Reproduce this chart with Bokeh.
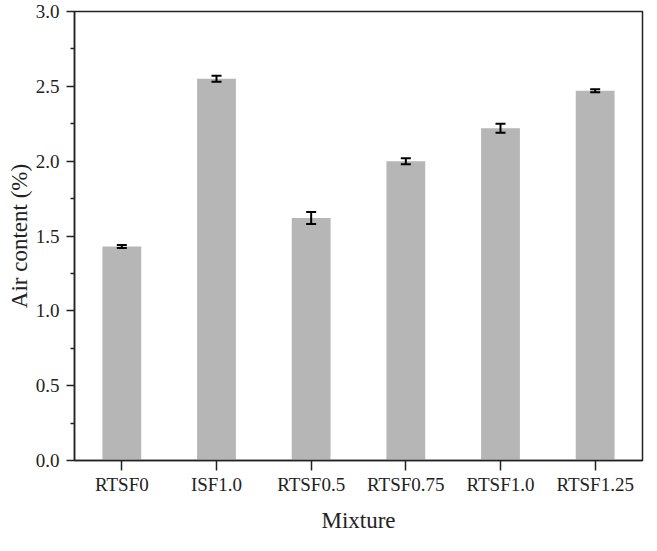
from bokeh.plotting import figure
from bokeh.models import ColumnDataSource, Whisker, TeeHead, FixedTicker, Range1d, CustomJSTickFormatter
from bokeh.embed import file_html
from bokeh.resources import INLINE

mixtures = ["RTSF0", "ISF1.0", "RTSF0.5", "RTSF0.75", "RTSF1.0", "RTSF1.25"]
air_content = [1.43, 2.55, 1.62, 2.00, 2.22, 2.47]
errors = [0.01, 0.02, 0.04, 0.02, 0.03, 0.01]
y_ticks = [0.0, 0.5, 1.0, 1.5, 2.0, 2.5, 3.0]
y_minor = [0.25, 0.75, 1.25, 1.75, 2.25, 2.75]

src = ColumnDataSource(dict(
    x=mixtures, top=air_content,
    upper=[v + e for v, e in zip(air_content, errors)],
    lower=[v - e for v, e in zip(air_content, errors)],
))

FONT = "Liberation Serif"

p = figure(x_range=mixtures, y_range=Range1d(0, 3.0), width=646, height=535,
           output_backend="svg", toolbar_location=None,
           min_border_left=74, min_border_right=4, min_border_top=11, min_border_bottom=70)

p.vbar(x="x", top="top", width=0.41, source=src, fill_color="#b6b6b6", line_color=None)
cap = dict(size=10, line_width=2, line_color="black")
p.add_layout(Whisker(source=src, base="x", upper="upper", lower="lower",
                     line_width=2, line_color="black", level="overlay",
                     upper_head=TeeHead(**cap), lower_head=TeeHead(**cap)))

p.xgrid.visible = False
p.ygrid.visible = False
p.outline_line_color = "#222222"
p.outline_line_width = 1.5
p.background_fill_color = "white"
p.border_fill_color = "white"

p.yaxis.ticker = FixedTicker(ticks=y_ticks, minor_ticks=y_minor)
p.yaxis.formatter = CustomJSTickFormatter(code="return tick.toFixed(1);")

for ax in (p.xaxis, p.yaxis):
    ax.axis_line_color = "#222222"
    ax.axis_line_width = 1.5
    ax.major_tick_line_color = "#222222"
    ax.major_tick_line_width = 1.5
    ax.minor_tick_line_color = "#222222"
    ax.minor_tick_line_width = 1.5
    ax.major_tick_in = 0
    ax.major_tick_out = 8
    ax.minor_tick_in = 0
    ax.minor_tick_out = 4
    ax.major_label_text_font = FONT
    ax.major_label_text_font_size = "19px"
    ax.major_label_text_color = "#222222"
    ax.axis_label_text_font = FONT
    ax.axis_label_text_font_size = "23px"
    ax.axis_label_text_font_style = "normal"
    ax.axis_label_text_color = "#222222"

p.xaxis.major_tick_out = 10
p.xaxis.minor_tick_line_color = None
p.xaxis.axis_label = "Mixture"
p.yaxis.axis_label = "Air content (%)"
p.xaxis.major_label_standoff = 3
p.xaxis.axis_label_standoff = 10
p.yaxis.major_label_standoff = 7
p.yaxis.axis_label_standoff = 1

open("out.html", "w").write(file_html(p, INLINE))
